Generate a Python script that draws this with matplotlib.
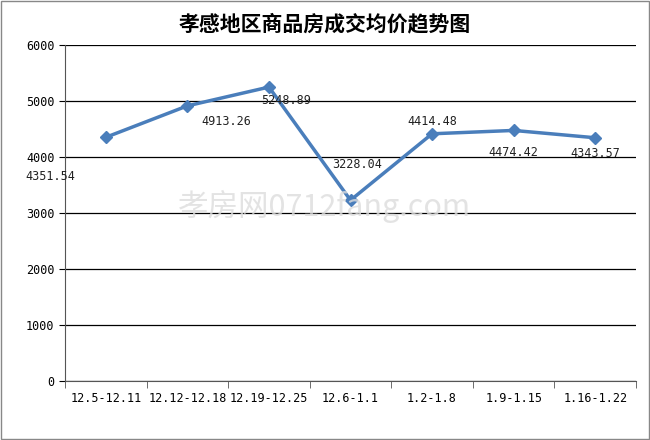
import matplotlib
matplotlib.use("Agg")
import matplotlib.pyplot as plt
from matplotlib.patches import Rectangle

categories = ["12.5-12.11", "12.12-12.18", "12.19-12.25", "12.6-1.1", "1.2-1.8", "1.9-1.15", "1.16-1.22"]
prices = [4351.54, 4913.26, 5248.89, 3228.04, 4414.48, 4474.42, 4343.57]
label_offsets = [(-40, -28), (28, -11), (12, -10), (5, 26), (0, 9), (0, -16), (0, -11)]

plt.rcParams['font.family'] = ['Noto Sans CJK SC', 'DejaVu Sans']
fig = plt.figure(figsize=(6.5, 4.4), dpi=100)
fig.patches.append(Rectangle((0.002, 0.002), 0.996, 0.996, transform=fig.transFigure,
                             fill=False, edgecolor='#888888', lw=1))
ax = fig.add_axes([65/650, 59/440, 571/650, 336/440])
x = list(range(len(categories)))
ax.plot(x, prices, color='#4a7ebb', lw=2.5, marker='D', markersize=6, zorder=3)
for xi, v, off in zip(x, prices, label_offsets):
    ax.annotate(f"{v:.2f}", (xi, v), xytext=off, textcoords='offset points',
                ha='center', va='center', fontsize=8.5, family='DejaVu Sans Mono', color='#222222')
ax.set_xlim(-0.5, len(categories) - 0.5)
ax.set_ylim(0, 6000)
ax.set_yticks(range(0, 6001, 1000))
ax.yaxis.grid(True, color='black', lw=0.9)
ax.set_axisbelow(True)
ax.set_xticks(x)
ax.set_xticklabels(categories, family='DejaVu Sans Mono', fontsize=8.5)
ax.set_xticks([i - 0.5 for i in range(len(categories) + 1)], minor=True)
ax.tick_params(axis='x', which='major', length=0, pad=8)
ax.tick_params(axis='x', which='minor', length=5, color='#555555')
ax.tick_params(axis='y', labelsize=8.5, length=4)
for lab in ax.get_yticklabels():
    lab.set_family('DejaVu Sans Mono')
for s in ['top', 'right']:
    ax.spines[s].set_visible(False)
ax.spines['left'].set_color('#555555')
ax.spines['bottom'].set_color('#555555')
fig.text(0.5, 0.945, "孝感地区商品房成交均价趋势图", ha='center', va='center', fontsize=15, fontweight='bold')
fig.text(0.5, 0.53, "孝房网0712fang.com", ha='center', va='center', fontsize=22, color='#dddddd', alpha=0.8, zorder=0)
fig.savefig("out.png", dpi=100)
